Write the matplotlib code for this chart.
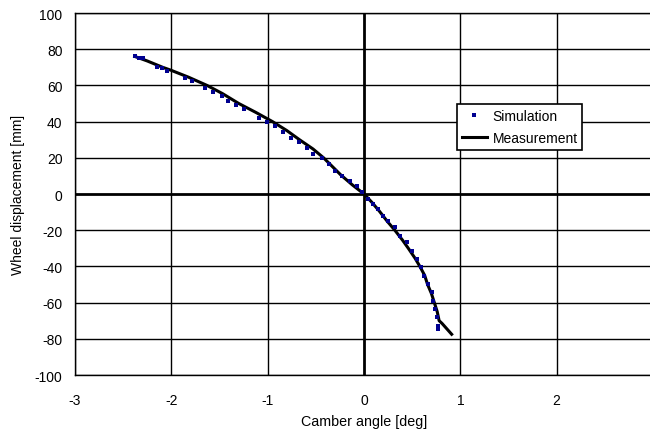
import matplotlib
matplotlib.use("Agg")
import matplotlib.pyplot as plt

plt.rcParams['font.family'] = ['Liberation Sans', 'DejaVu Sans']

# Measurement curve (camber angle [deg], wheel displacement [mm])
meas_x = [-2.38, -2.25, -2.09, -2.0, -1.82, -1.63, -1.47, -1.30, -1.12, -0.95,
          -0.80, -0.67, -0.53, -0.42, -0.24, -0.12, 0.0, 0.08, 0.16, 0.24,
          0.32, 0.40, 0.46, 0.53, 0.58, 0.63, 0.66, 0.70, 0.73, 0.76,
          0.78, 0.81, 0.86, 0.91]
meas_y = [76.0, 73.5, 70.0, 68.3, 64.5, 60.0, 55.5, 50.0, 45.0, 40.0,
          35.0, 30.0, 24.9, 20.0, 10.5, 5.0, 0.0, -4.5, -9.5, -15.0,
          -20.0, -25.5, -30.0, -35.5, -40.0, -45.0, -50.0, -55.0, -60.0, -65.0,
          -70.0, -71.5, -74.5, -77.5]

# Simulation points
sim_x = [-2.38, -2.34, -2.29, -2.152, -2.10, -2.048, -1.858, -1.789, -1.65, -1.564,
         -1.477, -1.408, -1.328, -1.245, -1.086, -1.01, -0.923, -0.843, -0.757, -0.67,
         -0.587, -0.525, -0.44, -0.36, -0.30, -0.23, -0.145, -0.076, -0.024, 0.045,
         0.097, 0.149, 0.20, 0.253, 0.32, 0.375, 0.444, 0.496, 0.548, 0.59,
         0.624, 0.669, 0.704, 0.721, 0.738, 0.756, 0.763, 0.763]
sim_y = [76.0, 75.3, 75.0, 70.0, 69.4, 68.1, 63.9, 62.6, 58.4, 56.2,
         54.0, 51.5, 49.3, 47.0, 41.8, 39.6, 37.4, 34.1, 30.9, 28.6,
         25.4, 22.1, 19.7, 16.6, 12.9, 10.1, 7.3, 4.6, 0.9, -2.8,
         -5.5, -8.3, -12.0, -14.8, -18.4, -23.0, -26.7, -31.3, -35.9, -40.5,
         -45.1, -49.7, -54.3, -59.0, -63.5, -68.1, -72.8, -74.6]

x_ticks = [-3, -2, -1, 0, 1, 2, 3]
x_ticklabels = ['-3', '-2', '-1', '0', '1', '2', '']
y_ticks = [-100, -80, -60, -40, -20, 0, 20, 40, 60, 80, 100]

fig = plt.figure(figsize=(6.5, 4.39), dpi=100)
ax = fig.add_axes([75/650, 1 - 376/439, 578/650, 362/439])
ax.set_xlim(-3, 3)
ax.set_ylim(-100, 100)

for xv in x_ticks:
    ax.axvline(xv, color='black', lw=2.0 if xv == 0 else 1.0, zorder=1)
for yv in y_ticks:
    ax.axhline(yv, color='black', lw=2.0 if yv == 0 else 1.0, zorder=1)

ax.plot(meas_x, meas_y, color='black', lw=2.2, zorder=3, label='Measurement')
ax.plot(sim_x, sim_y, linestyle='none', marker='s', markersize=2.2,
        markeredgewidth=0, color='#000090', zorder=4, label='Simulation')

ax.set_xticks(x_ticks)
ax.set_yticks(y_ticks)
ax.set_xticklabels(x_ticklabels)
ax.set_yticklabels([str(v) for v in y_ticks])
ax.tick_params(axis='both', length=0, labelsize=10, colors='black')
ax.tick_params(axis='x', pad=13)
ax.tick_params(axis='y', pad=9)
for s in ['left', 'bottom', 'top']:
    ax.spines[s].set_linewidth(1.0)
    ax.spines[s].set_color('black')
ax.spines['right'].set_visible(False)

ax.set_xlabel('Camber angle [deg]', fontsize=10.3)
ax.xaxis.set_label_coords(0.5, -0.108)
ax.set_ylabel('Wheel displacement [mm]', fontsize=10)
ax.yaxis.set_label_coords(-0.086, 0.5)

handles, labels = ax.get_legend_handles_labels()
leg = ax.legend(handles[::-1], labels[::-1], loc='upper left',
                bbox_to_anchor=(0.661, 0.749), fontsize=10, frameon=True,
                fancybox=False, edgecolor='black', framealpha=1.0,
                borderpad=0.35, labelspacing=0.6, handlelength=1.8,
                handletextpad=0.4, borderaxespad=0, markerscale=1.0)
leg.get_frame().set_linewidth(1.2)
leg.set_zorder(5)

fig.savefig('out.png', dpi=100)
